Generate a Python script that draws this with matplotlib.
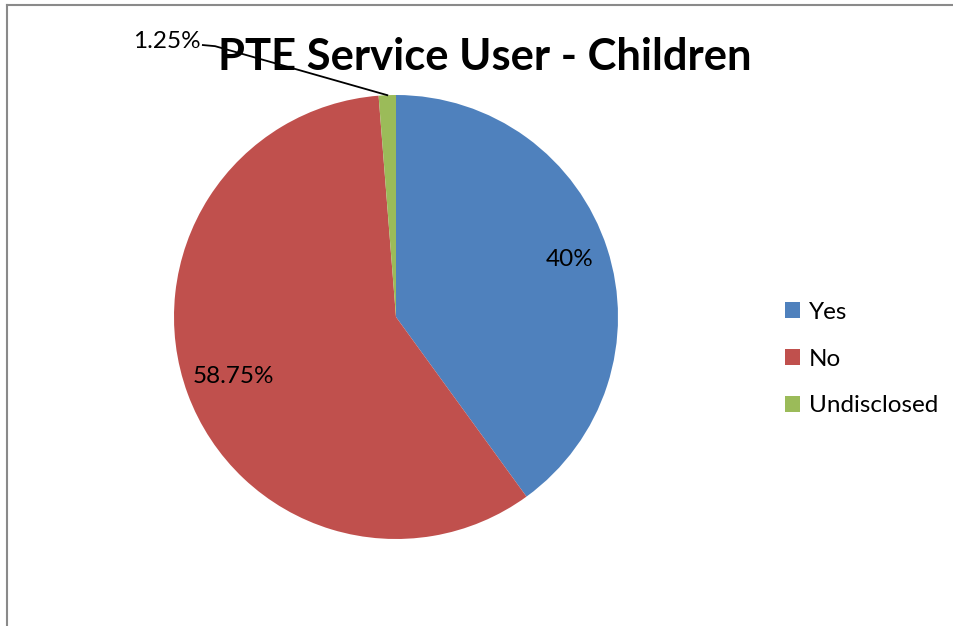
import numpy as np
import matplotlib
matplotlib.use("Agg")
import matplotlib.pyplot as plt
from matplotlib.lines import Line2D
from matplotlib.patches import Patch

categories = ["Yes", "No", "Undisclosed"]
values = [40, 58.75, 1.25]
colors = ["#4F81BD", "#C0504D", "#9BBB59"]
title = "PTE Service User - Children"

plt.rcParams["font.family"] = ["Lato", "DejaVu Sans"]

W, H = 954, 626
fig = plt.figure(figsize=(W / 100, H / 100), dpi=100)

# thin grey chart-area border (top and left edges visible)
fig.add_artist(Line2D([7 / W, 1.0], [1 - 5 / H, 1 - 5 / H], color="#8a8a8a", lw=1.5))
fig.add_artist(Line2D([7 / W, 7 / W], [0, 1 - 5 / H], color="#8a8a8a", lw=1.5))

cx, cy, r = 396, 317, 222
ax = fig.add_axes([(cx - r) / W, (H - cy - r) / H, 2 * r / W, 2 * r / H])

wedges, _ = ax.pie(values, colors=colors, startangle=90, counterclock=False,
                   radius=1, wedgeprops=dict(linewidth=0))
ax.set_xlim(-1, 1)
ax.set_ylim(-1, 1)
ax.set_aspect("equal")
ax.axis("off")
for wdg in wedges:
    wdg.set_clip_on(False)

label_size = 17.5
total = sum(values)
angle = 90.0
for i, v in enumerate(values):
    span = 360.0 * v / total
    mid = np.deg2rad(angle - span / 2)
    angle -= span
    label = f"{v:g}%"
    if v / total > 0.05:
        ax.text(0.80 * np.cos(mid) + 0.02, 0.80 * np.sin(mid) + 0.01, label,
                ha="center", va="center", fontsize=label_size, color="black")
    else:
        ex, ey = np.cos(mid), np.sin(mid)
        tx, ty = -0.87, 1.225
        ax.plot([tx, tx + 0.055, ex], [ty, ty - 0.005, ey], color="black",
                lw=1.3, clip_on=False)
        ax.text(tx - 0.01, ty + 0.015, label, ha="right", va="center",
                fontsize=label_size, color="black")

fig.text(485 / W, 1 - 57 / H, title, ha="center", va="center",
         fontsize=31.3, fontweight="bold", color="black")

handles = [Patch(facecolor=c, edgecolor="none") for c in colors]
fig.legend(handles, categories, loc="center left", bbox_to_anchor=(785 / W, 1 - 359 / H),
           frameon=False, fontsize=label_size, handlelength=0.62, handleheight=0.62,
           handletextpad=0.35, labelspacing=1.06, borderaxespad=0, borderpad=0)

fig.savefig("out.png", dpi=100, facecolor="white")
